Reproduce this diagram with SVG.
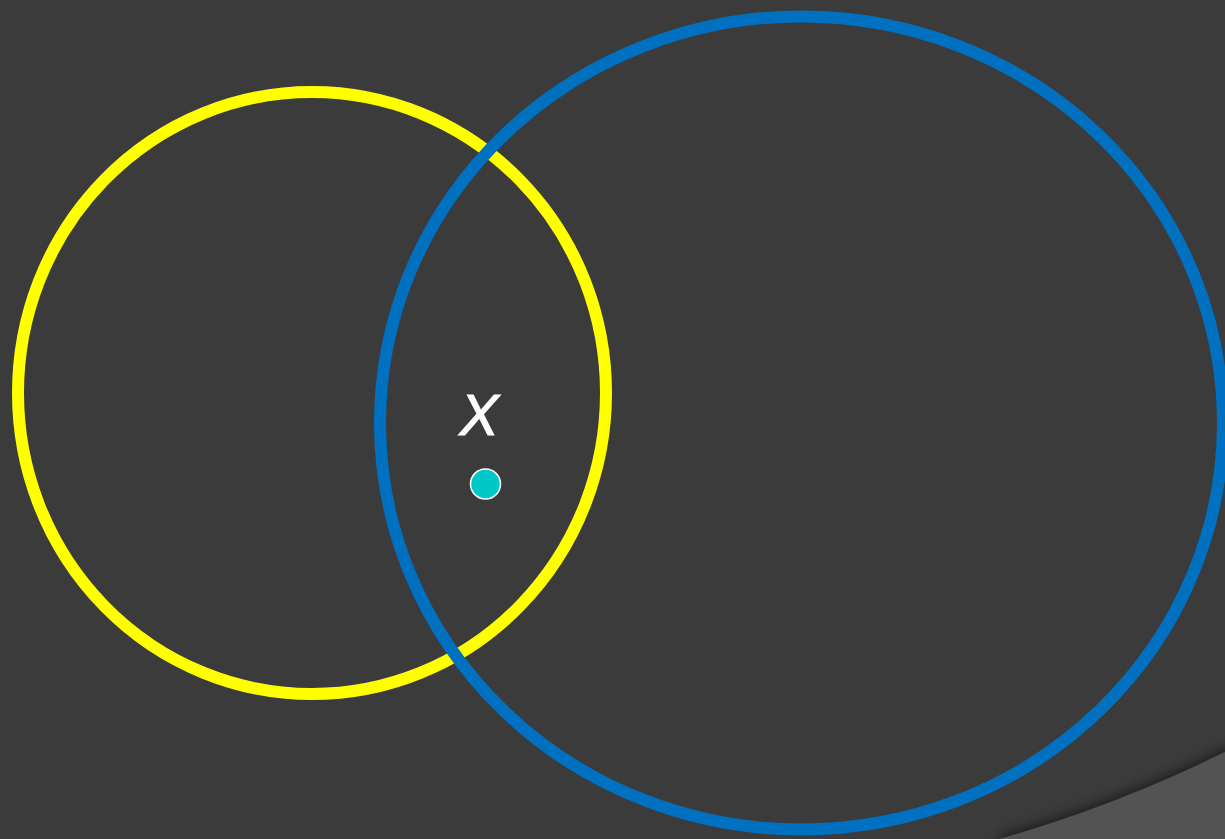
<svg xmlns="http://www.w3.org/2000/svg" width="1225" height="839" viewBox="0 0 1225 839">
<defs>
<filter id="sh" x="-20%" y="-40%" width="140%" height="180%">
<feGaussianBlur in="SourceAlpha" stdDeviation="6"/>
<feOffset dx="0" dy="-4" result="b"/>
<feComponentTransfer><feFuncA type="linear" slope="0.5"/></feComponentTransfer>
<feMerge><feMergeNode/><feMergeNode in="SourceGraphic"/></feMerge>
</filter>
</defs>
<style>
.ring{fill:none;stroke-width:12}
</style>
<rect width="1225" height="839" fill="#3b3b3b"/>
<g id="corner"><path d="M1000 839 Q1118 805 1225 752 L1240 752 L1240 850 L1000 850 Z" fill="#525252" filter="url(#sh)"/></g>
<g id="setA"><ellipse class="ring" cx="312" cy="393" rx="294" ry="301" stroke="#ffff00"/></g>
<g id="setB"><ellipse class="ring" cx="801.5" cy="423" rx="421.5" ry="406.5" stroke="#0070c0"/></g>
<g id="pointX">
<text x="479" y="435" font-family="'Liberation Sans', Arial, sans-serif" font-style="italic" font-size="58" fill="#ffffff" stroke="#ffffff" stroke-width="1.2" text-anchor="middle">X</text>
<circle cx="485.5" cy="484" r="15" fill="#00c8c8" stroke="#ffffff" stroke-width="1.5"/>
</g>
</svg>
